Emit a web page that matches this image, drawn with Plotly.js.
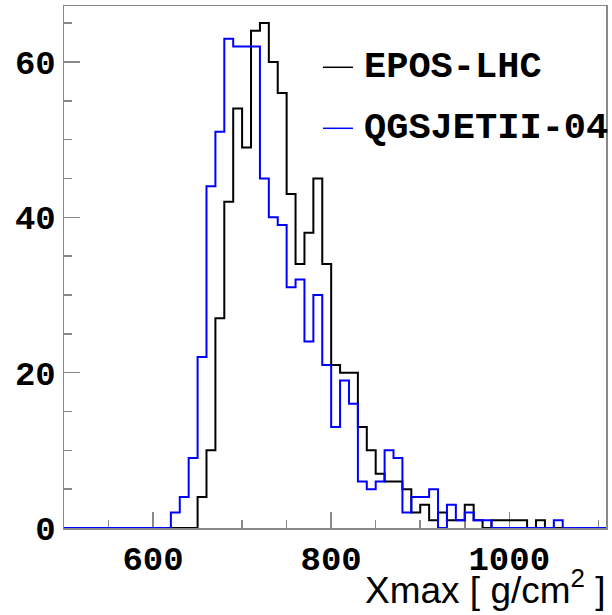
<!DOCTYPE html>
<html>
<head>
<meta charset="utf-8">
<script src="https://cdn.plot.ly/plotly-3.0.1.min.js"></script>
<style>
  html, body { margin: 0; padding: 0; background: #ffffff; }
  #chart { width: 612px; height: 615px; }
</style>
</head>
<body>
<div id="chart"></div>
<script>
// Histogram bins: lower edges (g/cm^2), width 10
const binLowEdges = [500,510,520,530,540,550,560,570,580,590,600,610,620,630,640,650,660,670,680,690,
  700,710,720,730,740,750,760,770,780,790,800,810,820,830,840,850,860,870,880,890,
  900,910,920,930,940,950,960,970,980,990,1000,1010,1020,1030,1040,1050,1060,1070,1080,1090,1100];
const binWidth = 10;

// Entries per bin
const eposLHC = [0,0,0,0,0,0,0,0,0,0,0,0,0,0,0,4,10,27,42,54,
  49,64,65,60,56,43,34,38,45,34,21,20,20,13,10,7,6,6,5,2,
  3,1,2,1,1,3,1,0,1,1,1,1,0,1,0,0,0,0,0,0,0];
const qgsjet04 = [0,0,0,0,0,0,0,0,0,0,0,0,2,4,9,22,44,51,63,62,
  62,62,45,40,39,31,32,24,30,21,13,19,16,6,5,6,10,9,2,4,
  4,5,0,3,1,2,1,1,0,0,0,0,0,0,0,1,0,0,0,0,0];

const seriesNames = ["EPOS-LHC", "QGSJETII-04"];
const seriesColors = ["#000000", "#0000ff"];
const xTitle = "Xmax [ g/cm<sup>2</sup> ]";

function stepXY(edges, counts) {
  const x = edges.slice();
  x.push(edges[edges.length - 1] + binWidth);
  const y = counts.slice();
  y.push(counts[counts.length - 1]);
  return {x, y};
}

const s1 = stepXY(binLowEdges, eposLHC);
const s2 = stepXY(binLowEdges, qgsjet04);

const tickFont = {family: "Liberation Mono", size: 34, color: "#000000", weight: 700};
const legendFont = {family: "Liberation Mono", size: 37, color: "#000000", weight: 700};

const traces = [
  {type: "scatter", mode: "lines", name: seriesNames[0], x: s1.x, y: s1.y,
   line: {shape: "hv", color: seriesColors[0], width: 2}, cliponaxis: false},
  {type: "scatter", mode: "lines", name: seriesNames[1], x: s2.x, y: s2.y,
   line: {shape: "hv", color: seriesColors[1], width: 2}, cliponaxis: false}
];

// Manual legend (paper coordinates)
const legendRowsY = [0.8826, 0.7657];
const legendShapes = legendRowsY.map((yy, i) => ({
  type: "line", xref: "paper", yref: "paper", x0: 0.4779, x1: 0.5332, y0: yy, y1: yy,
  line: {color: seriesColors[i], width: 1.5}
}));
const legendTexts = legendRowsY.map((yy, i) => ({
  text: seriesNames[i], xref: "paper", yref: "paper", x: 0.5517, y: yy,
  xanchor: "left", yanchor: "middle", showarrow: false, borderpad: 0,
  font: legendFont
}));

const layout = {
  width: 612, height: 615,
  margin: {l: 64, r: 6, t: 6, b: 87, pad: 0},
  paper_bgcolor: "#ffffff", plot_bgcolor: "#ffffff",
  showlegend: false,
  xaxis: {
    range: [500, 1108.6], showgrid: false, zeroline: false, automargin: false,
    showline: true, mirror: true, linecolor: "#888888", linewidth: 1.5,
    ticks: "inside", ticklen: 16, tickwidth: 1.5, tickcolor: "#888888",
    tick0: 0, dtick: 200, tickfont: tickFont, layer: "below traces",
    minor: {ticks: "inside", dtick: 50, ticklen: 8, tickwidth: 1.5, tickcolor: "#888888", showgrid: false}
  },
  yaxis: {
    range: [0, 67.2], showgrid: false, zeroline: false, automargin: false,
    showline: true, mirror: true, linecolor: "#888888", linewidth: 1.5,
    ticks: "inside", ticklen: 16, tickwidth: 1.5, tickcolor: "#888888",
    tick0: 0, dtick: 20, tickfont: tickFont, layer: "below traces",
    minor: {ticks: "inside", dtick: 5, ticklen: 8, tickwidth: 1.5, tickcolor: "#888888", showgrid: false}
  },
  shapes: legendShapes,
  annotations: legendTexts.concat([{
    text: xTitle, xref: "paper", yref: "paper", x: 1.0, y: -0.066,
    xanchor: "right", yanchor: "top", showarrow: false, xshift: 2,
    font: {family: "Liberation Sans", size: 37, color: "#000000"}
  }])
};

Plotly.newPlot("chart", traces, layout, {staticPlot: true, displayModeBar: false});
</script>
</body>
</html>
